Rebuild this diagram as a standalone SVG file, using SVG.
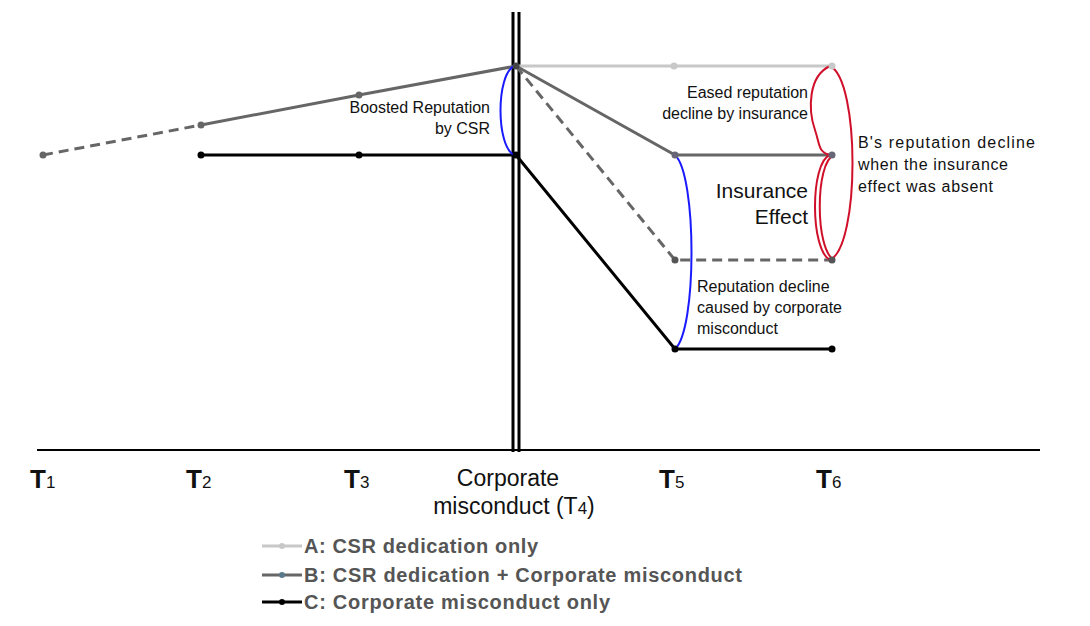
<svg xmlns="http://www.w3.org/2000/svg" width="1090" height="626" viewBox="0 0 1090 626">
<style>
text{font-family:"Liberation Sans",Arial,sans-serif;fill:#111}
.s{font-size:16px}
.t{font-size:26px;font-weight:bold}
.l{font-size:20px;font-weight:bold;fill:#555}
.a{stroke:#c8c8c8;stroke-width:3;fill:none}
.b{stroke:#666;stroke-width:3;fill:none}
.c{stroke:#000;stroke-width:3;fill:none}
.d{stroke-dasharray:10,6}
.blue{stroke:#1a1aff;stroke-width:2;fill:none}
.red{stroke:#d0102a;stroke-width:2;fill:none}
</style>
<rect width="1090" height="626" fill="#fff"/>
<g id="axes">
<line x1="37" y1="450" x2="1040" y2="450" stroke="#000" stroke-width="2"/>
<line x1="513" y1="12" x2="513" y2="452" stroke="#000" stroke-width="3"/>
<line x1="519" y1="12" x2="519" y2="452" stroke="#000" stroke-width="3"/>
</g>
<g id="connectors">
<polyline class="a" points="516,66 832,66"/>
<polyline class="b d" points="43,155 201,125"/>
<polyline class="b" points="201,125 359,95 516,66 675,155 832,155"/>
<polyline class="b d" points="516,66 675,260 832,260"/>
<polyline class="c" points="201,155 516,155 675,349 832,349"/>
<path class="blue" d="M514,66 C496,75 496,146 514,155"/>
<path class="blue" d="M675,155 C697,175 697,330 675,349"/>
<path class="red" d="M830,66 C860,80 860,246 830,260"/>
<path class="red" d="M830,66 C808,76 808,110 815,130 C820,145 818,152 830,155"/>
<path class="red" d="M830,155 C810,162 810,250 830,260"/>
<path class="red" d="M834,155 C815,162 815,250 834,260"/>
</g>
<g id="points">
<circle cx="674" cy="66" r="3.5" fill="#c8c8c8"/><circle cx="832" cy="66" r="3.5" fill="#c8c8c8"/>
<circle cx="43" cy="155" r="3.5" fill="#666"/><circle cx="201" cy="125" r="3.5" fill="#666"/><circle cx="359" cy="95" r="3.5" fill="#666"/><circle cx="516" cy="66" r="3.5" fill="#444"/>
<circle cx="675" cy="155" r="3.5" fill="#667"/><circle cx="832" cy="155" r="3.5" fill="#667"/>
<circle cx="675" cy="260" r="3.5" fill="#555"/><circle cx="832" cy="260" r="3.5" fill="#555"/>
<circle cx="201" cy="155" r="3.5" fill="#000"/><circle cx="359" cy="155" r="3.5" fill="#000"/><circle cx="516" cy="155" r="3.5" fill="#000"/>
<circle cx="675" cy="349" r="3.5" fill="#000"/><circle cx="832" cy="349" r="3.5" fill="#000"/>
</g>
<g id="labels">
<text class="s" x="490" y="113" text-anchor="end">Boosted Reputation</text>
<text class="s" x="490" y="134" text-anchor="end">by CSR</text>
<text class="s" x="808" y="98" text-anchor="end">Eased reputation</text>
<text class="s" x="808" y="119" text-anchor="end">decline by insurance</text>
<text x="808" y="198" text-anchor="end" font-size="21">Insurance</text>
<text x="808" y="224" text-anchor="end" font-size="21">Effect</text>
<text class="s" x="697" y="292">Reputation decline</text>
<text class="s" x="697" y="313">caused by corporate</text>
<text class="s" x="697" y="334">misconduct</text>
<text class="s" x="858" y="148" textLength="177">B's reputation decline</text>
<text class="s" x="858" y="170" textLength="150">when the insurance</text>
<text class="s" x="858" y="192" textLength="135">effect was absent</text>
</g>
<g id="ticks">
<text class="t" x="30" y="488">T<tspan font-size="17" font-weight="normal">1</tspan></text>
<text class="t" x="186" y="488">T<tspan font-size="17" font-weight="normal">2</tspan></text>
<text class="t" x="344" y="488">T<tspan font-size="17" font-weight="normal">3</tspan></text>
<text x="508" y="486" text-anchor="middle" font-size="23">Corporate</text>
<text x="514" y="514" text-anchor="middle" font-size="23">misconduct (T<tspan font-size="17">4</tspan>)</text>
<text class="t" x="659" y="488">T<tspan font-size="17" font-weight="normal">5</tspan></text>
<text class="t" x="816" y="488">T<tspan font-size="17" font-weight="normal">6</tspan></text>
</g>
<g id="legend">
<line x1="262" y1="546" x2="302" y2="546" class="a"/><circle cx="282" cy="546" r="3" fill="#c8c8c8"/>
<text class="l" x="304" y="553" textLength="234">A: CSR dedication only</text>
<line x1="262" y1="575" x2="302" y2="575" class="b"/><circle cx="282" cy="575" r="3" fill="#5a7a8a"/>
<text class="l" x="304" y="582" textLength="438">B: CSR dedication + Corporate misconduct</text>
<line x1="262" y1="602" x2="302" y2="602" class="c"/><circle cx="282" cy="602" r="3" fill="#000"/>
<text class="l" x="304" y="609" textLength="306">C: Corporate misconduct only</text>
</g>
</svg>
